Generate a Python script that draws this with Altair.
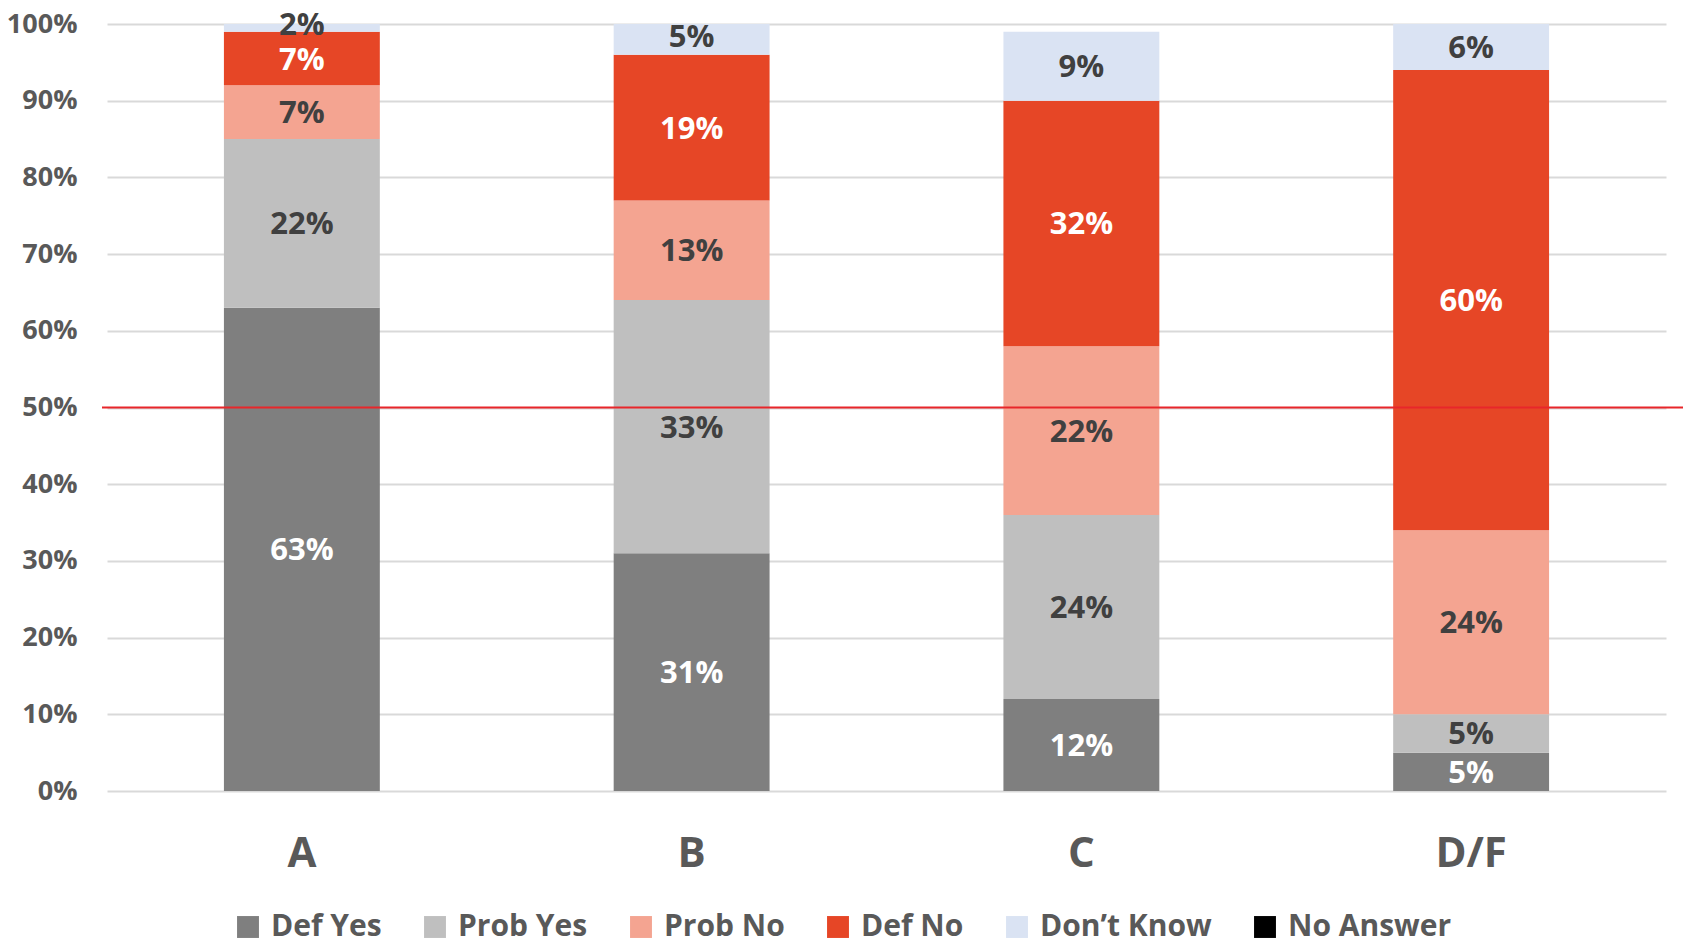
import altair as alt
import pandas as pd

grades = ["A", "B", "C", "D/F"]
categories = ["Def Yes", "Prob Yes", "Prob No", "Def No", "Don’t Know", "No Answer"]
colors = ["#7f7f7f", "#bfbfbf", "#f4a491", "#e64626", "#dae3f3", "#000000"]

def_yes = [63, 31, 12, 5]
prob_yes = [22, 33, 24, 5]
prob_no = [7, 13, 22, 24]
def_no = [7, 19, 32, 60]
dont_know = [2, 5, 9, 6]
no_answer = [0, 0, 0, 0]

series = [def_yes, prob_yes, prob_no, def_no, dont_know, no_answer]
rows = []
for ci, (cat, vals) in enumerate(zip(categories, series)):
    for g, v in zip(grades, vals):
        rows.append({"grade": g, "cat": cat, "value": v, "order": ci})
df = pd.DataFrame(rows)

W, H = 1559, 767
FONT = "Open Sans"
GREY = "#595959"

base = alt.Chart(df).transform_stack(
    stack="value",
    groupby=["grade"],
    sort=[alt.SortField("order", order="ascending")],
    as_=["y0", "y1"],
)

xenc = alt.X(
    "grade:N",
    sort=grades,
    scale=alt.Scale(paddingInner=0.6, paddingOuter=0.3),
    axis=alt.Axis(
        title=None, labelAngle=0, ticks=False, domain=False, grid=False,
        labelFontSize=42, labelFontWeight="bold", labelColor=GREY,
        labelPadding=42, labelFont=FONT,
    ),
)

bars = base.mark_bar(clip=True).encode(
    x=xenc,
    y=alt.Y(
        "y0:Q",
        scale=alt.Scale(domain=[0, 100], nice=False),
        axis=alt.Axis(
            title=None, values=list(range(0, 101, 10)),
            labelExpr="datum.value + '%'", grid=True, gridColor="#d9d9d9",
            gridWidth=2, domain=False, ticks=False, labelFontSize=27,
            labelFontWeight="bold", labelColor=GREY, labelPadding=30,
            labelFont=FONT,
        ),
    ),
    y2="y1:Q",
    color=alt.Color(
        "cat:N",
        scale=alt.Scale(domain=categories, range=colors),
        legend=alt.Legend(
            title=None, orient="none", direction="horizontal",
            legendX=126, legendY=888, symbolType="square", symbolSize=480,
            symbolStrokeWidth=0, labelFontSize=30, labelFontWeight="bold",
            labelColor=GREY, labelFont=FONT, columnPadding=38, labelOffset=8,
            labelLimit=400,
        ),
    ),
)

labels = base.transform_filter("datum.value > 0").transform_calculate(
    mid="(datum.y0 + datum.y1) / 2",
    label="datum.value + '%'",
).mark_text(fontSize=31, fontWeight="bold", font=FONT, dy=2).encode(
    x=alt.X("grade:N", sort=grades),
    y=alt.Y("mid:Q"),
    text="label:N",
    color=alt.condition(
        "datum.cat == 'Def Yes' || datum.cat == 'Def No'",
        alt.value("white"),
        alt.value("#404040"),
    ),
)

redline = alt.Chart(pd.DataFrame({"v": [50]})).mark_rule(
    color="#e8262a", strokeWidth=2
).encode(y=alt.Y("v:Q"), x=alt.value(-5), x2=alt.value(1576))

chart = alt.layer(bars, labels, redline).properties(
    width=W, height=H,
    autosize=alt.AutoSizeParams(type="none"),
    padding={"left": 99, "top": 16, "right": 17, "bottom": 152},
).configure(font=FONT, view=alt.ViewConfig(stroke=None))

chart.save("out.html", embed_options={"renderer": "svg", "actions": False})
